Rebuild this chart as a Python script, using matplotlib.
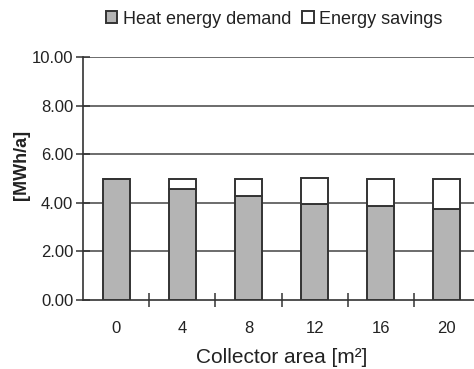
import matplotlib
matplotlib.use("Agg")
import matplotlib.pyplot as plt
import numpy as np

categories = ["0", "4", "8", "12", "16", "20"]
heat_demand = [5.00, 4.56, 4.27, 3.94, 3.86, 3.74]
energy_savings = [0.00, 0.44, 0.73, 1.06, 1.14, 1.26]
yticks = [0, 2, 4, 6, 8, 10]

plt.rcParams['font.family'] = ['Liberation Sans', 'DejaVu Sans']
txt = '#222222'
edge = '#333333'

fig = plt.figure(figsize=(4.74, 3.69), dpi=100)
ax = fig.add_axes([83/474, 69/369, 397/474, 243/369])

x = np.arange(len(categories))
w = 0.41
ax.bar(x, heat_demand, width=w, color='#b4b4b4', edgecolor=edge, linewidth=1.4,
       label='Heat energy demand', zorder=3)
ax.bar(x, energy_savings, width=w, bottom=heat_demand, color='white', edgecolor=edge,
       linewidth=1.4, label='Energy savings', zorder=3)

ax.set_xlim(-0.5, len(categories) - 0.5)
ax.set_ylim(0, 10)
ax.set_yticks(yticks)
ax.set_yticklabels([f"{v:.2f}" for v in yticks], fontsize=12, color=txt)
for v in yticks[1:]:
    ax.axhline(v, color='#444444', linewidth=1.1, zorder=1)

ax.set_xticks(x)
ax.set_xticklabels(categories, fontsize=12, color=txt)
ax.tick_params(axis='x', which='major', length=0, pad=15)
ax.set_xticks(np.arange(0.5, len(categories) - 0.5, 1.0), minor=True)
ax.tick_params(axis='x', which='minor', direction='inout', length=10, width=1.1, color=edge)
ax.tick_params(axis='y', direction='inout', length=10, width=1.1, color=edge, pad=2)

for s in ['top', 'right']:
    ax.spines[s].set_visible(False)
for s in ['left', 'bottom']:
    ax.spines[s].set_color(edge)
    ax.spines[s].set_linewidth(1.2)

ax.set_xlabel('Collector area [m²]', fontsize=15, color=txt, labelpad=9)
ax.set_ylabel('[MWh/a]', fontsize=13, fontweight='bold', color=txt)
ax.yaxis.set_label_coords((30 - 83) / 397, (300 - 165) / 243)

fig.legend(loc='center', bbox_to_anchor=(274/474, 1 - 19/369), ncol=2, frameon=False,
           fontsize=13, handlelength=0.65, handleheight=0.65, handletextpad=0.3,
           columnspacing=0.6, labelcolor=txt)

fig.savefig('out.png', dpi=100)
